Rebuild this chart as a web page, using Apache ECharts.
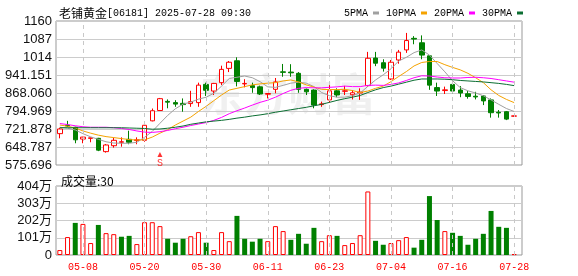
<!DOCTYPE html>
<html><head><meta charset="utf-8">
<script src="https://cdn.jsdelivr.net/npm/echarts@6/dist/echarts.min.js"></script>
<style>html,body{margin:0;padding:0;background:#fff}#c{width:578px;height:276px}</style>
</head><body><div id="c"></div>
<script>
const dates = ['05-02','05-06','05-07','05-08','05-09','05-12','05-13','05-14','05-15','05-16',
  '05-19','05-20','05-21','05-22','05-23','05-26','05-27','05-28','05-29','05-30',
  '06-02','06-03','06-04','06-05','06-06','06-09','06-10','06-11','06-12','06-13',
  '06-16','06-17','06-18','06-19','06-20','06-23','06-24','06-25','06-26','06-27',
  '06-30','07-02','07-03','07-04','07-07','07-08','07-09','07-10','07-11','07-14',
  '07-15','07-16','07-17','07-18','07-21','07-22','07-23','07-24','07-25','07-28'];
const opens  = [703,737,729,681,684,684,630,654,668,680, 675,676,755,797,834,829,826,825,829,903,
  876,910,968,999,905,898,893,863,883,954, 953,948,883,880,821,840,877,875,861,868,
  898,1010,991,925,1002,1043,1090,1072,1019,890, 878,903,880,865,855,856,840,790,792,774];
const closes = [722,734,678,689,686,636,657,676,670,668, 678,737,796,845,831,823,821,833,900,879,
  907,964,993,915,907,890,864,866,913,952, 950,883,873,819,824,877,860,877,869,872,
  1009,989,969,993,1034,1081,1087,1022,900,876, 881,876,868,854,852,836,788,787,762,775];
const lows   = [684,729,664,664,668,632,626,646,650,660, 660,670,753,795,806,812,792,812,812,856,
  860,900,953,895,891,869,860,846,867,934, 934,869,860,806,812,829,851,860,842,840,
  893,977,955,921,987,1031,1066,1005,881,856, 864,867,851,845,842,819,768,768,758,772];
const highs  = [727,755,731,690,687,686,661,687,688,715, 688,741,805,848,842,839,846,877,910,910,
  909,979,998,1013,924,910,898,868,929,986, 985,953,886,883,833,900,887,897,880,887,
  1035,1035,1005,1002,1043,1112,1099,1102,1020,910, 894,910,896,876,873,860,846,799,795,776];
const volumes = [29,105,188,182,70,176,128,122,107,112, 64,192,192,169,95,72,95,110,134,72,
  29,134,81,229,95,78,95,81,169,140, 89,124,66,159,81,116,112,58,70,116,
  372,83,60,70,87,105,43,89,345,205, 140,130,112,60,95,124,258,165,159,5];
const volumeUp = [1,1,0,1,1,0,1,1,0,0, 1,1,1,1,0,0,0,1,1,0, 1,1,1,0,0,0,0,1,1,1,
  0,0,0,0,1,1,0,1,1,1, 1,0,0,1,1,1,0,0,0,0, 1,0,0,0,0,0,0,0,0,1];
const ma5 = [729,725,718,703,690,680,670,665,664,664, 668,688,712,745,777,804,823,831,843,851,
  867,896,927,932,937,930,914,893,891,899, 908,912,908,894,870,857,851,851,857,868,
  895,921,942,966,998,1013,1032,1043,1022,988, 954,918,890,877,868,857,840,822,805,793];
const ma10 = [738,733,726,714,705,697,691,687,683,679, 677,678,689,705,719,738,754,770,793,814,
  837,860,880,887,894,901,905,908,910,917, 921,913,901,892,883,882,882,883,878,870,
  876,887,896,914,935,955,978,992,996,996, 983,972,962,948,930,910,881,858,842,829];
const ma20 = [744,740,735,731,729,729,729,727,724,720, 714,709,708,711,716,723,729,736,742,748,
  757,769,784,796,807,819,830,839,851,866, 879,887,890,889,889,891,893,896,894,894,
  899,900,899,903,909,919,930,938,937,933, 930,929,929,931,932,930,927,922,917,912];
const ma30 = [727,727,727,727,727,727,727,727,727,726, 725,724,721,722,725,729,734,741,746,751,
  754,757,761,766,770,775,779,784,790,795, 800,805,810,816,822,830,838,845,851,858,
  870,881,890,896,904,912,920,925,925,925, 924,922,919,917,915,913,910,907,903,898];
const priceTickLabels = ['575.696','648.787','721.878','794.969','868.060','941.151','1014','1087','1160'];
const priceMin = 575.696, priceMax = 1160.424;
const volumeTickLabels = ['0','101万','202万','303万','404万'];
const volumeMax = 404;
const maNames = ['5PMA','10PMA','20PMA','30PMA'];
const signalDates = ['05-22'];
const signalText = ['S'];

const maColors = ['#a0a0a0','#f5a300','#ff00ff','#0b6e32'];
const maData = [ma5, ma10, ma20, ma30];
const candleData = dates.map((d,i)=>[opens[i], closes[i], lows[i], highs[i]]);
const labelEvery = (i)=> i % 8 === 3;
const vLines = dates.filter((d,i)=>labelEvery(i)).map(d=>({xAxis:d}));
const markLineCfg = {silent:true, symbol:['none','none'], label:{show:false}, animation:false,
  lineStyle:{color:'#c8c8c8', type:[4,4], width:1}, data:vLines};
const SIGNAL_Y = 618;

const chart = echarts.init(document.getElementById('c'));
const LEFT = 56, SLOT = 7.7, N = dates.length;
chart.setOption({
  animation:false,
  backgroundColor:'#fff',
  title:[
    {text:'{a|老铺黄金}{b|[06181] 2025-07-28 09:30}', left:54, top:2,
     textStyle:{fontWeight:'normal', rich:{a:{fontSize:12, fontWeight:'normal', fontFamily:'Noto Sans CJK SC', color:'#000'},
                      b:{fontSize:10, fontWeight:'normal', fontFamily:'Liberation Mono', color:'#000'}}}},
    {text:'成交量:30', left:56, top:170, textStyle:{fontSize:12, fontWeight:'normal', fontFamily:'Noto Sans CJK SC', color:'#000'}}
  ],
  legend:{data:maNames, left:339, top:3, itemWidth:6, itemHeight:3, itemGap:7, icon:'rect', align:'right',
    textStyle:{fontFamily:'Liberation Mono', fontSize:10, color:'#000'}},
  graphic:[{type:'text', left:200, top:72, z:1, silent:true,
    style:{text:'东方财富', fontSize:44, fontWeight:'bold', fontFamily:'Noto Sans CJK SC', fill:'rgba(200,200,200,0.28)'}}],
  grid:[
    {left:LEFT, top:21, width:SLOT*N, height:144},
    {left:LEFT, top:186, width:SLOT*N, height:69},
    {left:LEFT, top:21, width:466, height:144, show:true, borderColor:'#999', borderWidth:1},
    {left:LEFT, top:186, width:466, height:69, show:true, borderColor:'#999', borderWidth:1}
  ],
  xAxis:[
    {type:'category', gridIndex:0, data:dates, boundaryGap:true, show:false},
    {type:'category', gridIndex:1, data:dates, boundaryGap:true,
     axisLine:{show:false}, axisTick:{show:false}, splitLine:{show:false},
     axisLabel:{interval:(i)=>labelEvery(i), color:'#ff0000', fontFamily:'Liberation Mono', fontSize:10, margin:7}},
    {type:'value', gridIndex:2, min:0, max:1, show:false},
    {type:'value', gridIndex:3, min:0, max:1, show:false}
  ],
  yAxis:[
    {type:'value', gridIndex:0, min:priceMin, max:priceMax, show:false},
    {type:'value', gridIndex:1, min:0, max:volumeMax, show:false},
    {type:'value', gridIndex:2, min:0, max:priceTickLabels.length-1, interval:1,
     axisLine:{show:false}, axisTick:{show:false},
     splitLine:{show:true, lineStyle:{color:'#cccccc', width:1}},
     axisLabel:{formatter:(v)=>priceTickLabels[Math.round(v)], margin:4, color:'#111', fontFamily:'Liberation Sans', fontSize:13}},
    {type:'value', gridIndex:3, min:0, max:volumeTickLabels.length-1, interval:1,
     axisLine:{show:false}, axisTick:{show:false},
     splitLine:{show:true, lineStyle:{color:'#cccccc', width:1}},
     axisLabel:{formatter:(v)=>volumeTickLabels[Math.round(v)], margin:4, color:'#111', fontFamily:'Liberation Sans, Noto Sans CJK SC', fontSize:13}}
  ],
  series:[
    {type:'candlestick', name:'K', xAxisIndex:0, yAxisIndex:0, data:candleData, barWidth:5,
     itemStyle:{color:'#ffffff', color0:'#008000', borderColor:'#ff0000', borderColor0:'#008000', borderWidth:1},
     markLine:markLineCfg},
    ...maNames.map((n,k)=>({type:'line', name:n, xAxisIndex:0, yAxisIndex:0, data:maData[k], showSymbol:false, symbol:'none',
      lineStyle:{color:maColors[k], width:1}, itemStyle:{color:maColors[k]}, z:4})),
    {type:'bar', name:'VOL', xAxisIndex:1, yAxisIndex:1, barWidth:5,
     data:volumes.map((v,i)=>({value:v, itemStyle: volumeUp[i] ? {color:'#ffffff', borderColor:'#ff0000', borderWidth:1} : {color:'#008000'}})),
     markLine:markLineCfg},
    {type:'scatter', name:'signal', xAxisIndex:0, yAxisIndex:0, symbol:'triangle', symbolSize:[5,5],
     data:signalDates.map((d,i)=>({value:[d, SIGNAL_Y], label:{formatter:signalText[i]}})),
     itemStyle:{color:'#ff0000'},
     label:{show:true, position:'bottom', distance:1, color:'#ff0000', fontSize:10, fontFamily:'Liberation Mono'}, z:5}
  ]
});
</script>
</body></html>
